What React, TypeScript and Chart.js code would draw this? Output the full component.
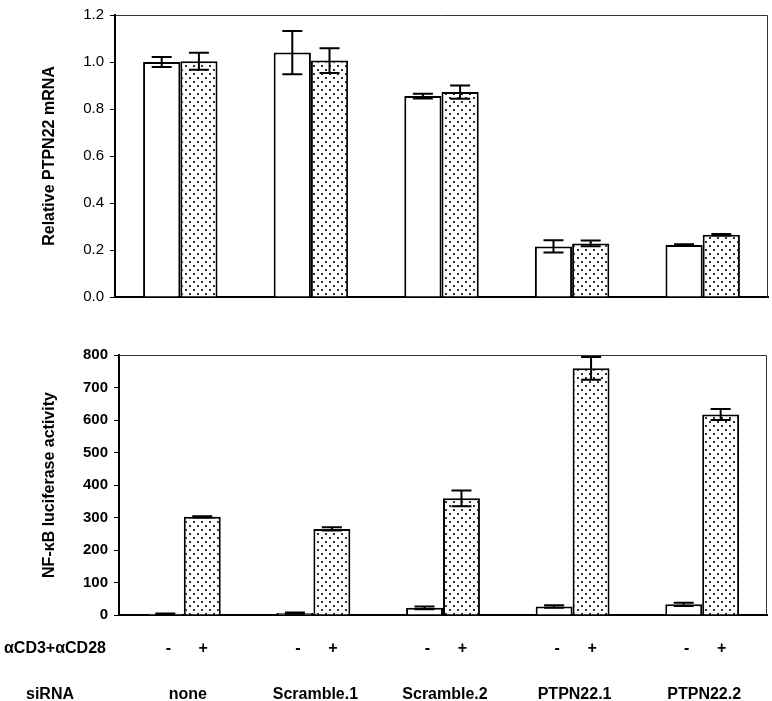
import React, { useEffect, useRef } from "react";
import { Chart, registerables } from "chart.js";

Chart.register(...registerables);

// ---------- data ----------
const CATEGORIES = ["none", "Scramble.1", "Scramble.2", "PTPN22.1", "PTPN22.2"];
const STIM_LABELS = ["-", "+"];
const ROW_HEADERS = ["\u03b1CD3+\u03b1CD28", "siRNA"];

const TOP_TITLE = "Relative PTPN22 mRNA";
const MRNA_UNSTIM = [1.0, 1.04, 0.855, 0.215, 0.221];
const MRNA_UNSTIM_ERR = [0.021, 0.092, 0.01, 0.026, 0.003];
const MRNA_STIM = [1.003, 1.006, 0.872, 0.228, 0.265];
const MRNA_STIM_ERR = [0.036, 0.053, 0.028, 0.012, 0.003];

const BOTTOM_TITLE = "NF-\u03baB luciferase activity";
const LUC_UNSTIM = [4, 6, 22, 26, 33];
const LUC_UNSTIM_ERR = [1, 2, 4, 4, 5];
const LUC_STIM = [302, 265, 359, 759, 617];
const LUC_STIM_ERR = [2, 5, 24, 35, 17];

const FONT = "'Liberation Sans', Arial, Helvetica, sans-serif";

// ---------- helpers ----------
function makeDotPattern(): CanvasPattern | string {
  const c = document.createElement("canvas");
  c.width = 8;
  c.height = 8;
  const g = c.getContext("2d");
  if (!g) return "#ddd";
  g.fillStyle = "#ffffff";
  g.fillRect(0, 0, 8, 8);
  g.fillStyle = "#333333";
  g.fillRect(1, 1, 2, 2);
  g.fillRect(5, 5, 2, 2);
  return g.createPattern(c, "repeat") || "#ddd";
}

const errorBarPlugin = {
  id: "errorBars",
  afterDatasetsDraw(chart: any) {
    const ctx = chart.ctx;
    const y = chart.scales.y;
    ctx.save();
    ctx.strokeStyle = "#000";
    ctx.lineWidth = 2;
    chart.data.datasets.forEach((ds: any, i: number) => {
      const meta = chart.getDatasetMeta(i);
      const errs: number[] = ds.errors || [];
      meta.data.forEach((el: any, j: number) => {
        const v = ds.data[j];
        const e = errs[j] || 0;
        const yt = y.getPixelForValue(v + e);
        const yb = y.getPixelForValue(v - e);
        const x = el.x;
        const cap = 10;
        ctx.beginPath();
        ctx.moveTo(x, yt);
        ctx.lineTo(x, yb);
        ctx.moveTo(x - cap, yt);
        ctx.lineTo(x + cap, yt);
        ctx.moveTo(x - cap, yb);
        ctx.lineTo(x + cap, yb);
        ctx.stroke();
      });
    });
    ctx.restore();
  },
};

const framePlugin = {
  id: "frame",
  afterDraw(chart: any) {
    const { ctx, chartArea } = chart;
    ctx.save();
    ctx.strokeStyle = "#333";
    ctx.lineWidth = 1;
    ctx.beginPath();
    ctx.moveTo(chartArea.left, chartArea.top + 0.5);
    ctx.lineTo(chartArea.right - 0.5, chartArea.top + 0.5);
    ctx.lineTo(chartArea.right - 0.5, chartArea.bottom);
    ctx.stroke();
    ctx.restore();
  },
};

const stimLabelPlugin = {
  id: "stimLabels",
  afterDraw(chart: any) {
    const ctx = chart.ctx;
    const xs = chart.scales.x;
    ctx.save();
    ctx.fillStyle = "#000";
    ctx.font = `bold 16px ${FONT}`;
    ctx.textBaseline = "middle";
    ctx.textAlign = "center";
    const rowY = 329;
    const catY = 375;
    chart.data.datasets.forEach((_ds: any, i: number) => {
      const meta = chart.getDatasetMeta(i);
      meta.data.forEach((el: any) => {
        ctx.fillText(STIM_LABELS[i], el.x + (i === 0 ? 3 : 1), rowY);
      });
    });
    CATEGORIES.forEach((c, i) => {
      ctx.fillText(c, xs.getPixelForValue(i) + (i === 0 ? 4 : 2), catY);
    });
    ctx.textAlign = "left";
    ctx.fillText(ROW_HEADERS[0], 4, rowY);
    ctx.textAlign = "center";
    ctx.fillText(ROW_HEADERS[1], 50, catY);
    ctx.restore();
  },
};

function baseOptions(opts: {
  padding: any;
  yWidth: number;
  xHeight: number;
  yMax: number;
  yStep: number;
  title: string;
  tickFont: any;
  tickFmt: (v: number) => string;
}) {
  return {
    responsive: false,
    animation: false as const,
    events: [],
    layout: { padding: opts.padding },
    plugins: { legend: { display: false }, tooltip: { enabled: false } },
    datasets: { bar: { categoryPercentage: 0.57, barPercentage: 1.0 } },
    scales: {
      x: {
        grid: { display: false, drawTicks: false },
        border: { display: true, color: "#000", width: 2 },
        ticks: { display: false },
        afterFit: (s: any) => {
          s.height = opts.xHeight;
        },
      },
      y: {
        min: 0,
        max: opts.yMax,
        grid: {
          display: true,
          drawOnChartArea: false,
          drawTicks: true,
          tickLength: 5,
          color: "#000",
          lineWidth: 1,
        },
        border: { display: true, color: "#000", width: 2 },
        ticks: {
          stepSize: opts.yStep,
          color: "#000",
          padding: 6,
          font: opts.tickFont,
          callback: (v: any) => opts.tickFmt(Number(v)),
        },
        title: {
          display: true,
          text: opts.title,
          color: "#000",
          font: { family: FONT, size: 16, weight: "bold" },
          padding: { top: 40, bottom: 0 },
        },
        afterFit: (s: any) => {
          s.width = opts.yWidth;
        },
      },
    },
  };
}

export default function App() {
  const topRef = useRef<HTMLCanvasElement | null>(null);
  const botRef = useRef<HTMLCanvasElement | null>(null);

  useEffect(() => {
    const pattern = makeDotPattern();
    const barStyle = (stim: boolean) => ({
      backgroundColor: stim ? pattern : "#ffffff",
      borderColor: "#000",
      borderWidth: 2,
      borderSkipped: "bottom" as const,
    });

    const top = new Chart(topRef.current as HTMLCanvasElement, {
      type: "bar",
      data: {
        labels: CATEGORIES,
        datasets: [
          { label: "-", data: MRNA_UNSTIM, errors: MRNA_UNSTIM_ERR, ...barStyle(false) } as any,
          { label: "+", data: MRNA_STIM, errors: MRNA_STIM_ERR, ...barStyle(true) } as any,
        ],
      },
      options: baseOptions({
        padding: { left: 0, right: 4, top: 10, bottom: 23 },
        yWidth: 115,
        xHeight: 0,
        yMax: 1.2,
        yStep: 0.2,
        title: TOP_TITLE,
        tickFont: { family: FONT, size: 15, weight: "normal" },
        tickFmt: (v) => v.toFixed(1),
      }) as any,
      plugins: [errorBarPlugin, framePlugin],
    });

    const bot = new Chart(botRef.current as HTMLCanvasElement, {
      type: "bar",
      data: {
        labels: CATEGORIES,
        datasets: [
          { label: "-", data: LUC_UNSTIM, errors: LUC_UNSTIM_ERR, ...barStyle(false) } as any,
          { label: "+", data: LUC_STIM, errors: LUC_STIM_ERR, ...barStyle(true) } as any,
        ],
      },
      options: baseOptions({
        padding: { left: 0, right: 5, top: 35, bottom: 86 },
        yWidth: 119,
        xHeight: 0,
        yMax: 800,
        yStep: 100,
        title: BOTTOM_TITLE,
        tickFont: { family: FONT, size: 15, weight: "bold" },
        tickFmt: (v) => String(Math.round(v)),
      }) as any,
      plugins: [errorBarPlugin, framePlugin, stimLabelPlugin],
    });

    return () => {
      top.destroy();
      bot.destroy();
    };
  }, []);

  return (
    <div
      style={{
        position: "absolute",
        left: 0,
        top: 0,
        width: 772,
        height: 701,
        background: "#fff",
        overflow: "hidden",
      }}
    >
      <canvas
        ref={topRef}
        width={772}
        height={320}
        style={{ position: "absolute", left: 0, top: 0, width: 772, height: 320 }}
      />
      <canvas
        ref={botRef}
        width={772}
        height={381}
        style={{ position: "absolute", left: 0, top: 320, width: 772, height: 381 }}
      />
    </div>
  );
}
